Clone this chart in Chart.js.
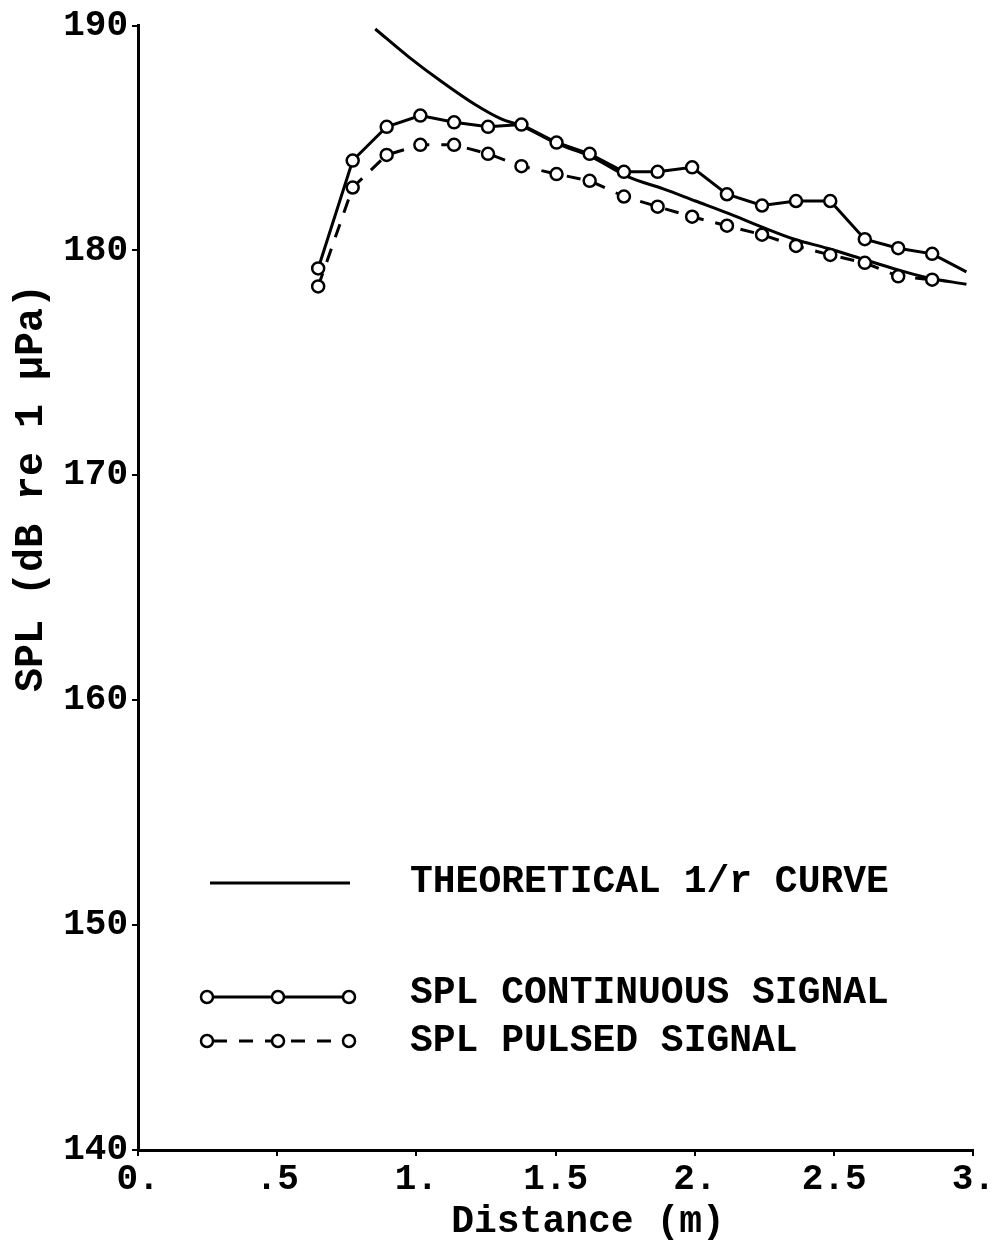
<!DOCTYPE html>
<html>
<head>
<meta charset="utf-8">
<script src="https://cdn.jsdelivr.net/npm/chart.js@4.4.1/dist/chart.umd.min.js"></script>
<style>
  html, body { margin: 0; padding: 0; background: #fff; }
  #wrap { width: 997px; height: 1245px; }
</style>
</head>
<body>
<div id="wrap"><canvas id="splChart" width="997" height="1245"></canvas></div>
<script>
// measured points (distance in m, SPL in dB re 1 uPa)
var distances = [0.647, 0.771, 0.893, 1.014, 1.135, 1.257, 1.377, 1.503, 1.622, 1.745,
                 1.866, 1.990, 2.115, 2.241, 2.363, 2.486, 2.610, 2.730, 2.852];
var continuousSpl = [179.2, 184.0, 185.5, 186.0, 185.7, 185.5, 185.6, 184.8, 184.3, 183.5,
                     183.5, 183.7, 182.5, 182.0, 182.2, 182.2, 180.5, 180.1, 179.85];
var pulsedSpl = [178.4, 182.8, 184.25, 184.7, 184.7, 184.3, 183.75, 183.4, 183.1, 182.4,
                 181.95, 181.5, 181.1, 180.7, 180.2, 179.8, 179.45, 178.85, 178.7];
// continuous trace runs on past the last marker
var continuousTailX = [2.975];
var continuousTailY = [179.05];

// theoretical 1/r curve
var theoryDist = [0.852, 0.973, 1.091, 1.209, 1.304, 1.375, 1.505, 1.623, 1.765, 1.884,
                  2.002, 2.120, 2.239, 2.357, 2.475, 2.594, 2.712, 2.830, 2.975];
var theorySpl = [189.85, 188.6, 187.5, 186.5, 185.85, 185.55, 184.75, 184.2, 183.25, 182.75,
                 182.2, 181.65, 181.05, 180.5, 180.1, 179.65, 179.2, 178.8, 178.5];

var xTickLabels = ["0.", ".5", "1.", "1.5", "2.", "2.5", "3."];
var yTicks = [140, 150, 160, 170, 180, 190];
var legendLabels = ["THEORETICAL 1/r CURVE", "SPL CONTINUOUS SIGNAL", "SPL PULSED SIGNAL"];
var xTitle = "Distance (m)";
var yTitle = "SPL (dB re 1 \u03bcPa)";

var FONT = '"Liberation Mono", "DejaVu Sans Mono", monospace';

function toPoints(xs, ys) {
    var pts = [];
    for (var i = 0; i < xs.length; i++) pts.push({ x: xs[i], y: ys[i] });
    return pts;
}

var contPoints = toPoints(distances.concat(continuousTailX), continuousSpl.concat(continuousTailY));
var contRadius = contPoints.map(function (p, i) { return i < distances.length ? 6 : 0; });

function drawMarker(ctx, x, y) {
    ctx.beginPath();
    ctx.arc(x, y, 6, 0, Math.PI * 2);
    ctx.fillStyle = "#fff";
    ctx.fill();
    ctx.lineWidth = 2.5;
    ctx.strokeStyle = "#000";
    ctx.stroke();
}

// legend block + axis titles drawn over the plot
var paperPlugin = {
    id: "paperPlugin",
    afterDraw: function (chart) {
        var ctx = chart.ctx;
        ctx.save();
        ctx.fillStyle = "#000";
        ctx.strokeStyle = "#000";
        ctx.lineCap = "butt";

        // theoretical sample
        ctx.lineWidth = 3;
        ctx.beginPath();
        ctx.moveTo(210, 883);
        ctx.lineTo(350, 883);
        ctx.stroke();

        // continuous sample
        ctx.setLineDash([]);
        ctx.beginPath();
        ctx.moveTo(207, 997);
        ctx.lineTo(349, 997);
        ctx.stroke();
        [207, 278, 349].forEach(function (x) { drawMarker(ctx, x, 997); });

        // pulsed sample
        ctx.lineWidth = 3;
        ctx.setLineDash([14, 12]);
        ctx.beginPath();
        ctx.moveTo(213, 1041);
        ctx.lineTo(343, 1041);
        ctx.stroke();
        ctx.setLineDash([]);
        [207, 278, 349].forEach(function (x) { drawMarker(ctx, x, 1041); });

        ctx.fillStyle = "#000";
        ctx.font = "bold 38px " + FONT;
        ctx.textBaseline = "middle";
        ctx.textAlign = "left";
        ctx.fillText(legendLabels[0], 410, 882);
        ctx.fillText(legendLabels[1], 410, 993);
        ctx.fillText(legendLabels[2], 410, 1041);

        // axis titles
        ctx.textAlign = "center";
        ctx.fillText(xTitle, 588, 1222);
        ctx.translate(32, 488);
        ctx.rotate(-Math.PI / 2);
        ctx.font = "bold 40px " + FONT;
        ctx.fillText(yTitle, 0, 0);
        ctx.restore();
    }
};

var tickFont = { family: FONT, size: 36, weight: "bold" };

new Chart(document.getElementById("splChart").getContext("2d"), {
    type: "line",
    data: {
        datasets: [{
            label: legendLabels[1],
            data: contPoints,
            borderColor: "#000",
            borderWidth: 3,
            pointRadius: contRadius,
            pointBorderWidth: 2.5,
            pointBackgroundColor: "#fff",
            pointBorderColor: "#000",
            tension: 0,
            order: 1
        }, {
            label: legendLabels[2],
            data: toPoints(distances, pulsedSpl),
            borderColor: "#000",
            borderWidth: 3,
            borderDash: [14, 12],
            pointRadius: 6,
            pointBorderWidth: 2.5,
            pointBackgroundColor: "#fff",
            pointBorderColor: "#000",
            tension: 0,
            order: 2
        }, {
            label: legendLabels[0],
            data: toPoints(theoryDist, theorySpl),
            borderColor: "#000",
            borderWidth: 3,
            pointRadius: 0,
            cubicInterpolationMode: "monotone",
            order: 3
        }]
    },
    options: {
        responsive: false,
        animation: false,
        devicePixelRatio: 1,
        layout: { padding: { top: 25, right: 16, left: 0, bottom: 0 } },
        plugins: {
            legend: { display: false },
            tooltip: { enabled: false }
        },
        scales: {
            x: {
                type: "linear",
                min: 0,
                max: 3,
                afterFit: function (s) { s.height = 95; },
                afterBuildTicks: function (s) {
                    s.ticks = xTickLabels.map(function (l, i) { return { value: i * 0.5 }; });
                },
                ticks: {
                    color: "#000",
                    font: tickFont,
                    padding: 2,
                    maxRotation: 0,
                    autoSkip: false,
                    callback: function (v) { return xTickLabels[Math.round(v / 0.5)]; }
                },
                grid: { drawOnChartArea: false, tickLength: 6, color: "#000", lineWidth: 2 },
                border: { color: "#000", width: 3 }
            },
            y: {
                min: 140,
                max: 190,
                afterFit: function (s) { s.width = 138; },
                afterBuildTicks: function (s) {
                    s.ticks = yTicks.map(function (v) { return { value: v }; });
                },
                ticks: {
                    color: "#000",
                    font: tickFont,
                    padding: 4,
                    autoSkip: false
                },
                grid: { drawOnChartArea: false, tickLength: 6, color: "#000", lineWidth: 2 },
                border: { color: "#000", width: 3 }
            }
        }
    },
    plugins: [paperPlugin]
});
</script>
</body>
</html>
